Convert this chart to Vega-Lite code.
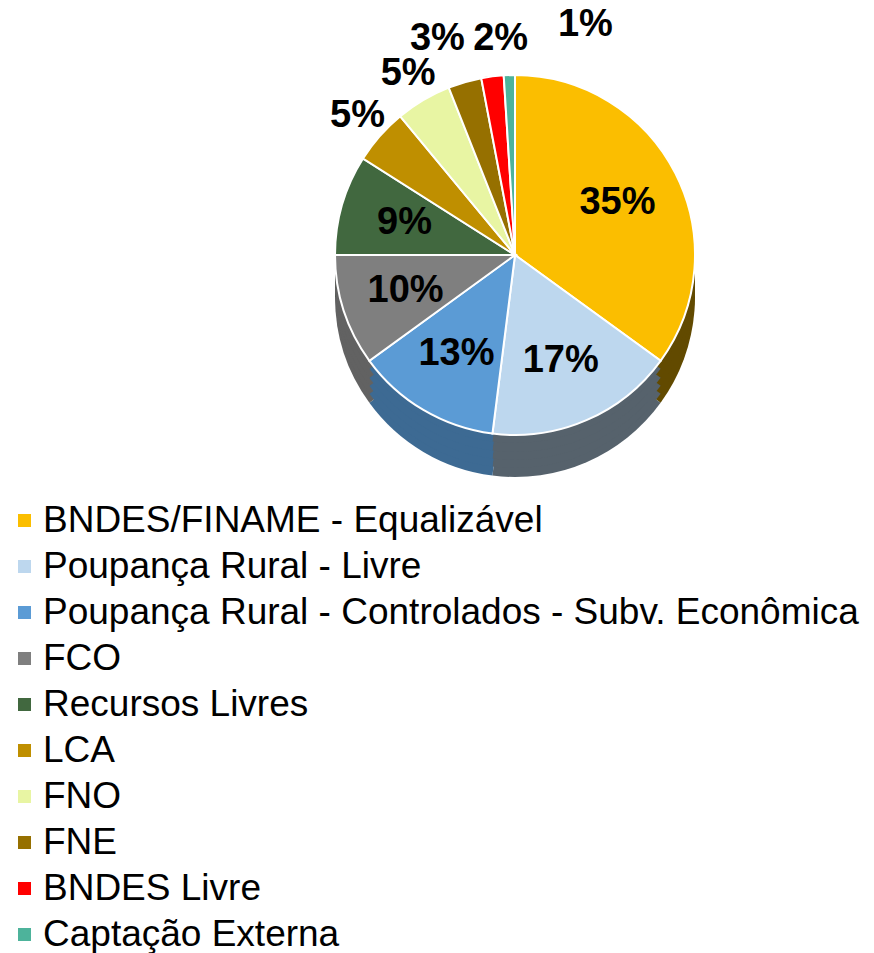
{
  "$schema": "https://vega.github.io/schema/vega-lite/v6.json",
  "autosize": {"type": "none"},
  "width": 718,
  "height": 510,
  "padding": {"left": 156, "top": 0, "right": 0, "bottom": 443},
  "background": "white",
  "config": {"view": {"stroke": null}, "font": "Liberation Sans"},
  "data": {"values": [
    {"name": "BNDES/FINAME - Equalizável", "value": 35, "label": "35%", "idx": 1},
    {"name": "Poupança Rural - Livre", "value": 17, "label": "17%", "idx": 2},
    {"name": "Poupança Rural - Controlados - Subv. Econômica", "value": 13, "label": "13%", "idx": 3},
    {"name": "FCO", "value": 10, "label": "10%", "idx": 4},
    {"name": "Recursos Livres", "value": 9, "label": "9%", "idx": 5},
    {"name": "LCA", "value": 5, "label": "5%", "idx": 6},
    {"name": "FNO", "value": 5, "label": "5%", "idx": 7},
    {"name": "FNE", "value": 3, "label": "3%", "idx": 8},
    {"name": "BNDES Livre", "value": 2, "label": "2%", "idx": 9},
    {"name": "Captação Externa", "value": 1, "label": "1%", "idx": 10}
  ]},
  "resolve": {"scale": {"color": "independent"}},
  "layer": [
    {"mark": {"type": "arc", "outerRadius": 180, "yOffset": 42},
     "encoding": {"theta": {"field": "value", "type": "quantitative", "stack": true}, "order": {"field": "idx"},
      "color": {"field": "name", "type": "nominal", "legend": null, "scale": {"domain": ["BNDES/FINAME - Equalizável", "Poupança Rural - Livre", "Poupança Rural - Controlados - Subv. Econômica", "FCO", "Recursos Livres", "LCA", "FNO", "FNE", "BNDES Livre", "Captação Externa"], "range": ["#624A00", "#56626C", "#3D6A93", "#626262", "#2E4A2C", "#7F5F00", "#9BA36E", "#665000", "#AA0000", "#33786A"]}}}},
    {"mark": {"type": "arc", "outerRadius": 180, "yOffset": 33},
     "encoding": {"theta": {"field": "value", "type": "quantitative", "stack": true}, "order": {"field": "idx"},
      "color": {"field": "name", "type": "nominal", "legend": null, "scale": {"domain": ["BNDES/FINAME - Equalizável", "Poupança Rural - Livre", "Poupança Rural - Controlados - Subv. Econômica", "FCO", "Recursos Livres", "LCA", "FNO", "FNE", "BNDES Livre", "Captação Externa"], "range": ["#624A00", "#56626C", "#3D6A93", "#626262", "#2E4A2C", "#7F5F00", "#9BA36E", "#665000", "#AA0000", "#33786A"]}}}},
    {"mark": {"type": "arc", "outerRadius": 180, "yOffset": 25},
     "encoding": {"theta": {"field": "value", "type": "quantitative", "stack": true}, "order": {"field": "idx"},
      "color": {"field": "name", "type": "nominal", "legend": null, "scale": {"domain": ["BNDES/FINAME - Equalizável", "Poupança Rural - Livre", "Poupança Rural - Controlados - Subv. Econômica", "FCO", "Recursos Livres", "LCA", "FNO", "FNE", "BNDES Livre", "Captação Externa"], "range": ["#624A00", "#56626C", "#3D6A93", "#626262", "#2E4A2C", "#7F5F00", "#9BA36E", "#665000", "#AA0000", "#33786A"]}}}},
    {"mark": {"type": "arc", "outerRadius": 180, "yOffset": 17},
     "encoding": {"theta": {"field": "value", "type": "quantitative", "stack": true}, "order": {"field": "idx"},
      "color": {"field": "name", "type": "nominal", "legend": null, "scale": {"domain": ["BNDES/FINAME - Equalizável", "Poupança Rural - Livre", "Poupança Rural - Controlados - Subv. Econômica", "FCO", "Recursos Livres", "LCA", "FNO", "FNE", "BNDES Livre", "Captação Externa"], "range": ["#624A00", "#56626C", "#3D6A93", "#626262", "#2E4A2C", "#7F5F00", "#9BA36E", "#665000", "#AA0000", "#33786A"]}}}},
    {"mark": {"type": "arc", "outerRadius": 180, "yOffset": 8},
     "encoding": {"theta": {"field": "value", "type": "quantitative", "stack": true}, "order": {"field": "idx"},
      "color": {"field": "name", "type": "nominal", "legend": null, "scale": {"domain": ["BNDES/FINAME - Equalizável", "Poupança Rural - Livre", "Poupança Rural - Controlados - Subv. Econômica", "FCO", "Recursos Livres", "LCA", "FNO", "FNE", "BNDES Livre", "Captação Externa"], "range": ["#624A00", "#56626C", "#3D6A93", "#626262", "#2E4A2C", "#7F5F00", "#9BA36E", "#665000", "#AA0000", "#33786A"]}}}},
    {"mark": {"type": "arc", "outerRadius": 180, "stroke": "white", "strokeWidth": 2},
     "encoding": {"theta": {"field": "value", "type": "quantitative", "stack": true}, "order": {"field": "idx"},
      "color": {"field": "name", "type": "nominal",
        "scale": {"domain": ["BNDES/FINAME - Equalizável", "Poupança Rural - Livre", "Poupança Rural - Controlados - Subv. Econômica", "FCO", "Recursos Livres", "LCA", "FNO", "FNE", "BNDES Livre", "Captação Externa"], "range": ["#FBBE00", "#BDD7EE", "#5B9BD5", "#7F7F7F", "#41683F", "#BF8F00", "#E8F5A3", "#967000", "#FF0000", "#4DB39B"]},
        "legend": {"orient": "none", "legendX": -150, "legendY": 502, "title": null, "padding": 0, "labelFont": "Liberation Sans", "labelFontSize": 37, "labelColor": "black", "labelLimit": 900, "labelOffset": 0, "symbolType": "square", "symbolSize": 169, "symbolStrokeWidth": 0, "rowPadding": 8}}}},
    {"mark": {"type": "text", "radius": 115, "fontSize": 38, "fontWeight": "bold", "font": "Liberation Sans", "color": "black"},
     "encoding": {"theta": {"field": "value", "type": "quantitative", "stack": true}, "order": {"field": "idx"},
      "text": {"condition": {"test": "datum.value >= 9", "field": "label"}, "value": ""}}},
    {"mark": {"type": "text", "radius": 210, "fontSize": 38, "fontWeight": "bold", "font": "Liberation Sans", "color": "black"},
     "encoding": {"theta": {"field": "value", "type": "quantitative", "stack": true}, "order": {"field": "idx"},
      "text": {"condition": {"test": "datum.name == 'LCA' || datum.name == 'FNO'", "field": "label"}, "value": ""}}},
    {"mark": {"type": "text", "radius": 210, "dx": -19, "dy": -14, "fontSize": 38, "fontWeight": "bold", "font": "Liberation Sans", "color": "black"},
     "encoding": {"theta": {"field": "value", "type": "quantitative", "stack": true}, "order": {"field": "idx"},
      "text": {"condition": {"test": "datum.name == 'FNE'", "field": "label"}, "value": ""}}},
    {"mark": {"type": "text", "radius": 210, "dx": 12, "dy": -8, "fontSize": 38, "fontWeight": "bold", "font": "Liberation Sans", "color": "black"},
     "encoding": {"theta": {"field": "value", "type": "quantitative", "stack": true}, "order": {"field": "idx"},
      "text": {"condition": {"test": "datum.name == 'BNDES Livre'", "field": "label"}, "value": ""}}},
    {"mark": {"type": "text", "radius": 210, "dx": 77, "dy": -20, "fontSize": 38, "fontWeight": "bold", "font": "Liberation Sans", "color": "black"},
     "encoding": {"theta": {"field": "value", "type": "quantitative", "stack": true}, "order": {"field": "idx"},
      "text": {"condition": {"test": "datum.name == 'Captação Externa'", "field": "label"}, "value": ""}}}
  ]
}
